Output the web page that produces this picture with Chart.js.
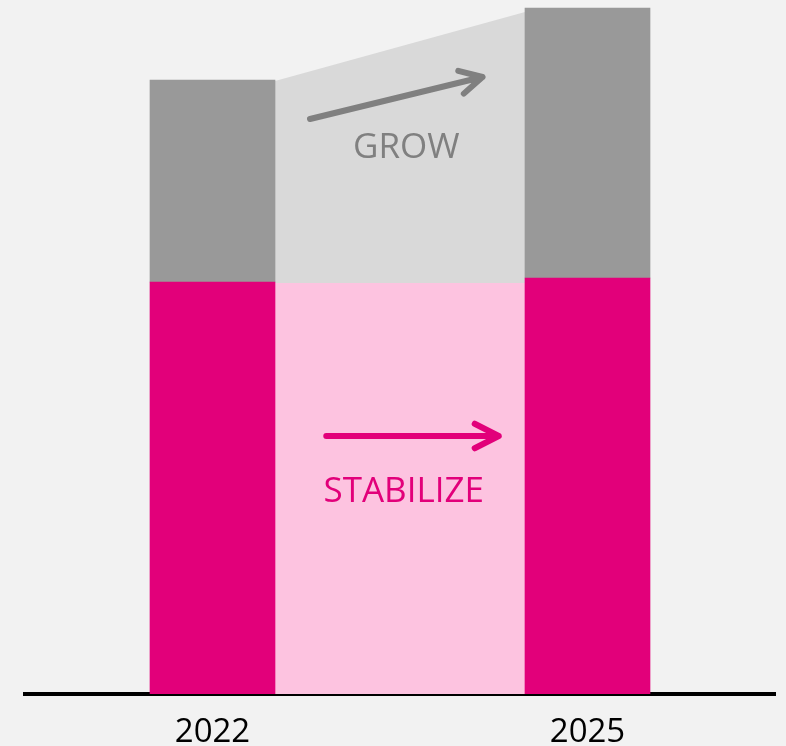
<!DOCTYPE html>
<html>
<head>
<meta charset="utf-8">
<script src="https://cdn.jsdelivr.net/npm/chart.js@4"></script>
<style>
  html, body { margin: 0; padding: 0; background: #f2f2f2; }
  #wrap { width: 786px; height: 746px; }
</style>
</head>
<body>
<div id="wrap"><canvas id="chart" width="786" height="746"></canvas></div>
<script>
const years = [2022, 2025];
const tickYears = [2022, 2025];
const stableValues = [41.2, 41.6];   // magenta part of each bar
const growValues = [20.2, 27.0];     // grey part stacked on top
const bridgeX = [2022.5, 2024.5];    // band between the two bars
const bridgeStable = [41.1, 41.1];
const bridgeTotal = [61.3, 68.2];

const MAGENTA = '#e2007a';
const LIGHT_MAGENTA = '#fdc3e0';
const GREY = '#999999';
const LIGHT_GREY = '#d9d9d9';
const FONT = '"Open Sans", sans-serif';

// arrows + labels in the band, placed in data coordinates
const notes = [
  { text: 'GROW', color: '#808080', x: 2023.55, y: 54.6, from: [2022.78, 57.5], to: [2024.16, 61.7], head: 25, spread: 28 },
  { text: 'STABILIZE', color: MAGENTA, x: 2023.53, y: 20.2, from: [2022.91, 25.8], to: [2024.29, 25.8], head: 27, spread: 27 }
];

const notesPlugin = {
  id: 'notes',
  afterDatasetsDraw(chart) {
    const ctx = chart.ctx;
    const xs = chart.scales.x, ys = chart.scales.y;
    notes.forEach(n => {
      const x1 = xs.getPixelForValue(n.from[0]), y1 = ys.getPixelForValue(n.from[1]);
      const x2 = xs.getPixelForValue(n.to[0]), y2 = ys.getPixelForValue(n.to[1]);
      const ang = Math.atan2(y1 - y2, x1 - x2);
      const sp = n.spread * Math.PI / 180;
      ctx.save();
      ctx.strokeStyle = n.color;
      ctx.lineWidth = 6;
      ctx.lineCap = 'round';
      ctx.lineJoin = 'round';
      ctx.beginPath();
      ctx.moveTo(x1, y1);
      ctx.lineTo(x2, y2);
      ctx.moveTo(x2 + n.head * Math.cos(ang - sp), y2 + n.head * Math.sin(ang - sp));
      ctx.lineTo(x2, y2);
      ctx.lineTo(x2 + n.head * Math.cos(ang + sp), y2 + n.head * Math.sin(ang + sp));
      ctx.stroke();
      ctx.fillStyle = n.color;
      ctx.font = '35px ' + FONT;
      ctx.textAlign = 'center';
      ctx.textBaseline = 'middle';
      ctx.fillText(n.text, xs.getPixelForValue(n.x), ys.getPixelForValue(n.y));
      ctx.restore();
    });
  }
};

new Chart(document.getElementById('chart'), {
  type: 'bar',
  data: {
    datasets: [
      {
        label: 'Stabilize',
        data: years.map((y, i) => ({ x: y, y: stableValues[i] })),
        backgroundColor: MAGENTA,
        barThickness: 125
      },
      {
        label: 'Grow',
        data: years.map((y, i) => ({ x: y, y: growValues[i] })),
        backgroundColor: GREY,
        barThickness: 125
      },
      {
        type: 'line',
        label: 'bridgeStable',
        yAxisID: 'y2',
        data: bridgeX.map((x, i) => ({ x: x, y: bridgeStable[i] })),
        borderColor: 'rgba(0,0,0,0)',
        borderWidth: 0,
        pointRadius: 0,
        fill: 'origin',
        backgroundColor: LIGHT_MAGENTA
      },
      {
        type: 'line',
        label: 'bridgeTotal',
        yAxisID: 'y2',
        data: bridgeX.map((x, i) => ({ x: x, y: bridgeTotal[i] })),
        borderColor: 'rgba(0,0,0,0)',
        borderWidth: 0,
        pointRadius: 0,
        fill: '-1',
        backgroundColor: LIGHT_GREY
      }
    ]
  },
  options: {
    responsive: false,
    animation: false,
    events: [],
    layout: { padding: { left: 25, right: 11, top: 0, bottom: 0 } },
    plugins: { legend: { display: false }, tooltip: { enabled: false } },
    scales: {
      x: {
        type: 'linear',
        stacked: true,
        offset: false,
        min: 2020.5,
        max: 2026.5,
        afterBuildTicks: scale => { scale.ticks = tickYears.map(v => ({ value: v })); },
        afterFit: scale => { scale.height = 52; },
        grid: { display: false, drawTicks: false },
        border: { display: true, color: '#000000', width: 4 },
        ticks: {
          callback: v => String(v),
          color: '#000000',
          padding: 22,
          maxRotation: 0,
          autoSkip: false,
          font: { family: FONT, size: 33, lineHeight: 1 }
        }
      },
      y: { stacked: true, display: false, min: 0, max: 69.4 },
      y2: { display: false, min: 0, max: 69.4 }
    }
  },
  plugins: [notesPlugin]
});
</script>
</body>
</html>
